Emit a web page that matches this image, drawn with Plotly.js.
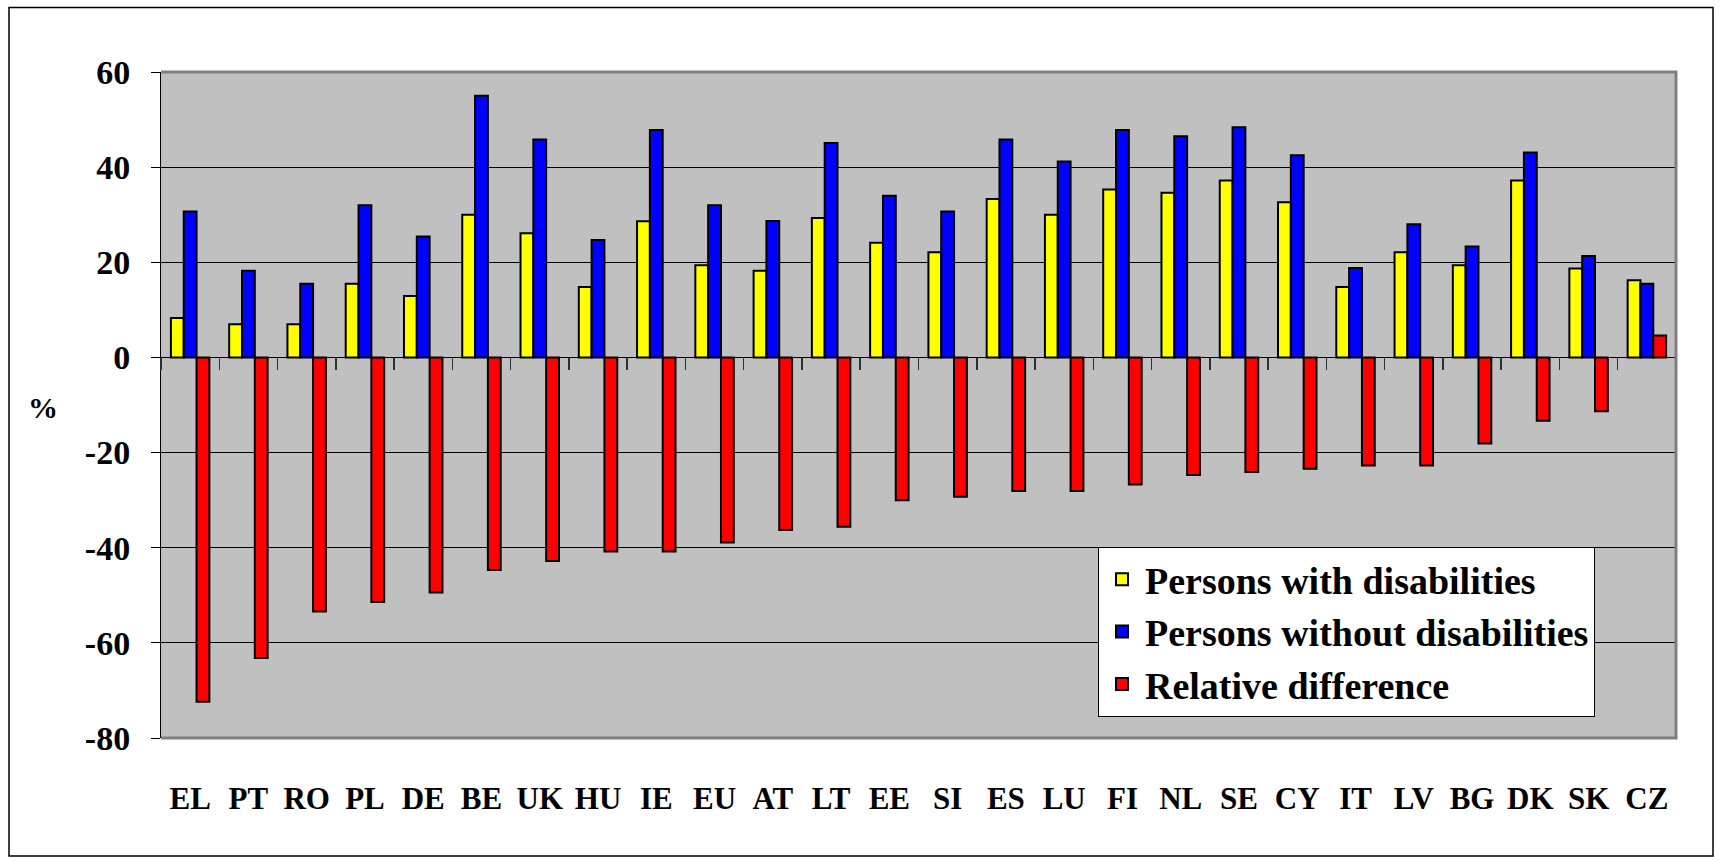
<!DOCTYPE html>
<html>
<head>
<meta charset="utf-8">
<script src="https://cdn.plot.ly/plotly-3.0.1.min.js"></script>
<style>
html,body{margin:0;padding:0;background:#fff;}
#chart{width:1721px;height:861px;}
</style>
</head>
<body>
<div id="chart"></div>
<script>
var countries = ["EL","PT","RO","PL","DE","BE","UK","HU","IE","EU","AT","LT","EE","SI","ES","LU","FI","NL","SE","CY","IT","LV","BG","DK","SK","CZ"];
var withDisabilities = [8.3,7.0,7.0,15.5,12.9,30.0,26.1,14.8,28.6,19.4,18.2,29.3,24.1,22.1,33.3,30.0,35.3,34.6,37.2,32.6,14.8,22.1,19.4,37.2,18.7,16.2];
var withoutDisabilities = [30.7,18.2,15.5,32.0,25.4,55.0,45.8,24.7,47.8,32.0,28.7,45.1,34.0,30.7,45.8,41.2,47.8,46.5,48.4,42.5,18.8,28.0,23.3,43.1,21.3,15.5];
var relativeDifference = [-72.4,-63.2,-53.4,-51.4,-49.4,-44.7,-42.8,-40.8,-40.8,-38.9,-36.3,-35.6,-30.0,-29.3,-28.1,-28.1,-26.7,-24.7,-24.1,-23.4,-22.7,-22.7,-18.1,-13.3,-11.3,4.6];
var seriesNames = ["Persons with disabilities","Persons without disabilities","Relative difference"];
var yTickVals = [-80,-60,-40,-20,0,20,40,60];
var yTickText = ["-80","-60","-40","-20","0","20","40","60"];
var yAxisLabel = "%";

var FONT = "'Liberation Serif', serif";
var L = 161, R = 45, T = 72, B = 123, W = 1721, H = 861;
var pw = W - L - R, ph = H - T - B;
function px(x){ return (x - L) / pw; }
function py(y){ return (H - B - y) / ph; }

var barLine = {color: "#000000", width: 2};
var traces = [
  {type: "bar", name: seriesNames[0], legendgroup: "g1", x: countries, y: withDisabilities, marker: {color: "#FFFF00", line: barLine}},
  {type: "bar", name: seriesNames[1], legendgroup: "g2", x: countries, y: withoutDisabilities, marker: {color: "#0000FF", line: barLine}},
  {type: "bar", name: seriesNames[2], legendgroup: "g3", x: countries, y: relativeDifference, marker: {color: "#FF0000", line: barLine}}
];

var layout = {
  width: W, height: H,
  margin: {l: L, r: R, t: T, b: B, pad: 0},
  paper_bgcolor: "#FFFFFF",
  plot_bgcolor: "#C0C0C0",
  barmode: "group",
  bargap: 0.34,
  bargroupgap: 0,
  showlegend: true,
  font: {family: FONT, color: "#000000", weight: "bold"},
  xaxis: {
    type: "category",
    categoryarray: countries,
    range: [-0.5, countries.length - 0.5],
    anchor: "free",
    position: 80 / 140,
    showgrid: false,
    zeroline: false,
    ticks: "outside",
    tickson: "boundaries",
    ticklen: 12,
    tickwidth: 1.5,
    tickcolor: "#303030",
    showline: true,
    linecolor: "#000000",
    linewidth: 1,
    ticklabelstandoff: 413,
    tickfont: {family: FONT, size: 31, color: "#000000", weight: "bold"},
    fixedrange: true
  },
  yaxis: {
    range: [-80, 60],
    tickmode: "array",
    tickvals: yTickVals,
    ticktext: yTickText,
    showgrid: true,
    gridcolor: "#000000",
    gridwidth: 1,
    zeroline: true,
    zerolinecolor: "#000000",
    zerolinewidth: 1,
    showline: true,
    linecolor: "#000000",
    linewidth: 1,
    ticks: "outside",
    ticklen: 9,
    tickcolor: "#000000",
    ticklabelstandoff: 14,
    tickfont: {family: FONT, size: 34, color: "#000000", weight: "bold"},
    fixedrange: true
  },
  legend: {
    x: px(1098), y: py(632),
    xanchor: "left", yanchor: "middle",
    bgcolor: "#FFFFFF",
    bordercolor: "#000000",
    borderwidth: 1,
    itemwidth: 36,
    tracegroupgap: 15,
    font: {family: FONT, size: 38, color: "#000000", weight: "bold"},
    traceorder: "normal"
  },
  annotations: [
    {text: yAxisLabel, xref: "paper", yref: "paper", x: px(43), y: py(408), showarrow: false,
     xanchor: "center", yanchor: "middle", font: {family: FONT, size: 30, color: "#000000", weight: "bold"}}
  ],
  shapes: [
    {type: "path", xref: "paper", yref: "paper", path: "M 0 1 L 1 1 L 1 0 L 0 0",
     line: {color: "#808080", width: 3}, layer: "above"},
    {type: "rect", xref: "paper", yref: "paper", x0: px(9), x1: px(1713), y0: py(856), y1: py(7.5),
     line: {color: "#000000", width: 1.5}, fillcolor: "rgba(0,0,0,0)", layer: "below"}
  ]
};

Plotly.newPlot("chart", traces, layout, {displayModeBar: false, staticPlot: true});
</script>
</body>
</html>
